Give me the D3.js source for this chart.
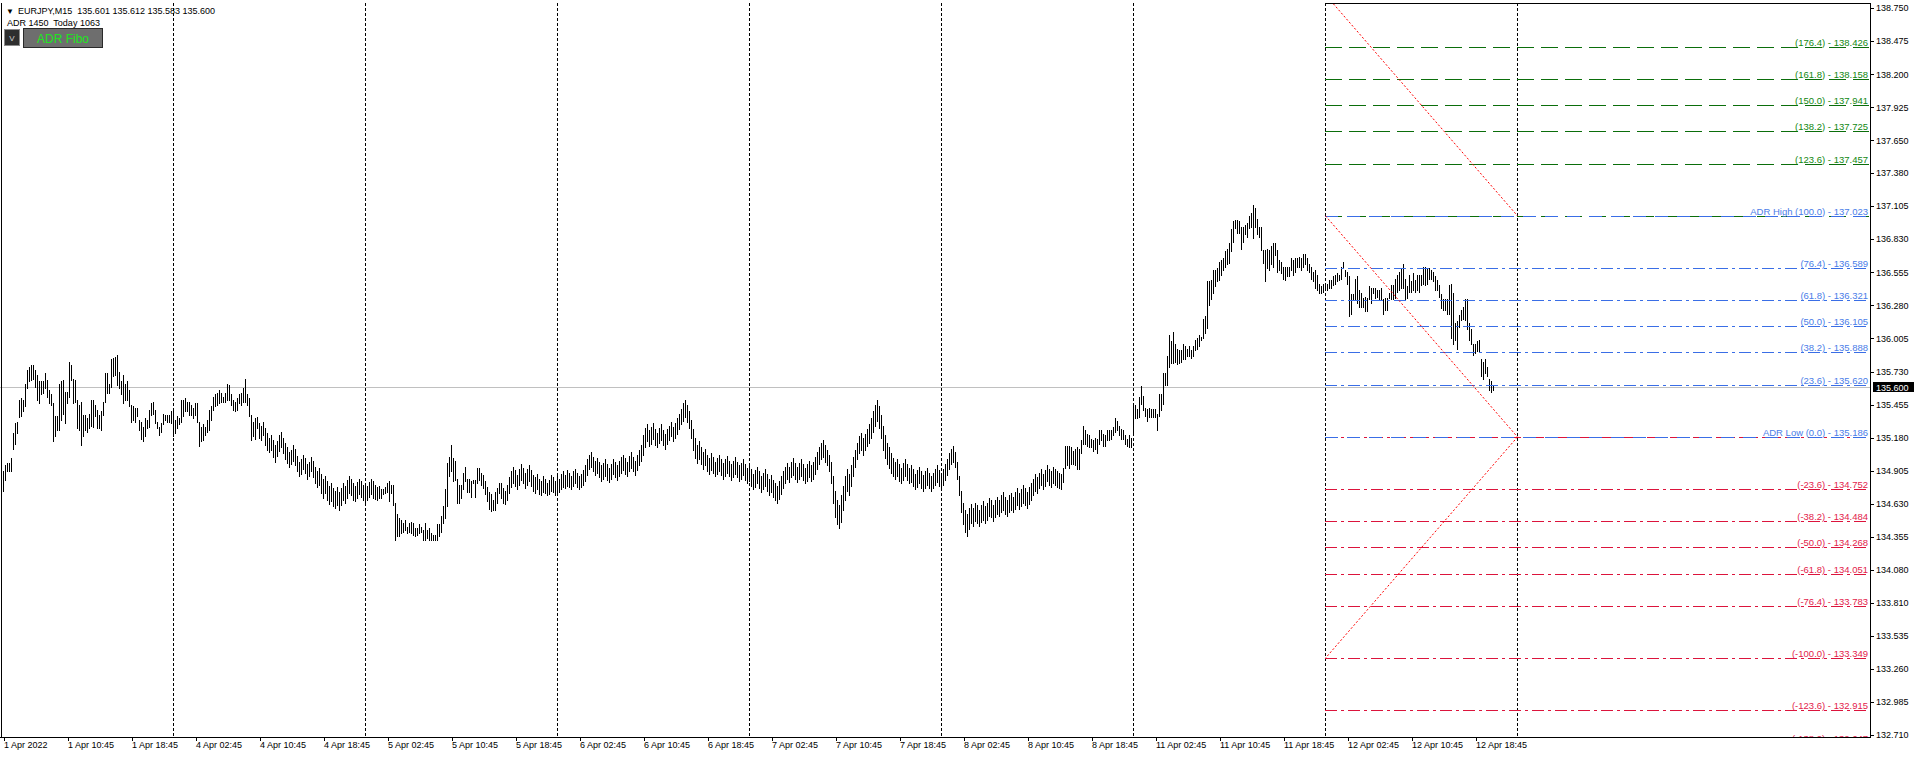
<!DOCTYPE html>
<html>
<head>
<meta charset="utf-8">
<script src="https://cdn.jsdelivr.net/npm/d3@7"></script>
<style>
html, body { margin: 0; padding: 0; background: #fff; overflow: hidden; }
svg { display: block; }
text { font-family: "Liberation Sans", Arial, sans-serif; }
</style>
</head>
<body>
<div id="chart-area"></div>
<script>
// EURJPY M15 bars, [high, low] per bar, one array per trading day
const apr01 = [
[134.90,134.74],[134.95,134.83],[134.97,134.90],[134.97,134.90],[135.01,134.90],
[135.22,135.09],[135.30,135.13],[135.31,135.22],[135.49,135.35],[135.51,135.36],
[135.49,135.40],[135.63,135.44],[135.74,135.59],[135.77,135.65],[135.78,135.66],
[135.78,135.67],[135.74,135.60],[135.70,135.49],[135.65,135.47],[135.65,135.54],
[135.65,135.55],[135.72,135.59],[135.66,135.52],[135.58,135.47],[135.54,135.45],
[135.47,135.15],[135.36,135.19],[135.36,135.24],[135.63,135.24],[135.65,135.33],
[135.66,135.38],[135.56,135.30],[135.56,135.47],[135.81,135.52],[135.78,135.66],
[135.67,135.47],[135.66,135.48],[135.49,135.26],[135.45,135.24],[135.48,135.12],
[135.37,135.19],[135.37,135.24],[135.34,135.23],[135.38,135.26],[135.49,135.28],
[135.49,135.27],[135.45,135.36],[135.41,135.26],[135.37,135.26],[135.40,135.24],
[135.48,135.37],[135.72,135.48],[135.72,135.55],[135.63,135.55],[135.83,135.60],
[135.84,135.69],[135.85,135.70],[135.87,135.62],[135.73,135.59],[135.65,135.54],
[135.70,135.47],[135.63,135.49],[135.65,135.49],[135.58,135.44],[135.45,135.31],
[135.44,135.33],[135.43,135.31],[135.43,135.36],[135.33,135.24],[135.31,135.17],
[135.27,135.15],[135.34,135.19],[135.33,135.26],[135.41,135.27],[135.47,135.37],
[135.48,135.38],[135.41,135.30],[135.31,135.26],[135.27,135.20],[135.30,135.23],
[135.38,135.29],[135.37,135.33],[135.37,135.31],[135.37,135.31],[135.40,135.30]
]
const apr04 = [
[135.41,135.19],[135.33,135.22],[135.36,135.26],[135.34,135.29],[135.49,135.31],
[135.49,135.36],[135.51,135.40],[135.48,135.40],[135.48,135.37],[135.45,135.37],
[135.43,135.34],[135.47,135.37],[135.47,135.31],[135.31,135.11],[135.27,135.15],
[135.29,135.16],[135.27,135.20],[135.33,135.23],[135.41,135.24],[135.44,135.33],
[135.52,135.41],[135.54,135.44],[135.55,135.45],[135.58,135.47],[135.55,135.48],
[135.52,135.48],[135.55,135.48],[135.63,135.49],[135.62,135.49],[135.54,135.45],
[135.49,135.41],[135.48,135.40],[135.51,135.41],[135.54,135.47],[135.55,135.45],
[135.59,135.48],[135.67,135.48],[135.54,135.45],[135.51,135.36],[135.37,135.16],
[135.31,135.19],[135.34,135.17],[135.35,135.26],
[135.30,135.18],[135.28,135.16],[135.31,135.20],[135.26,135.12],[135.22,135.08],
[135.18,135.06],[135.20,135.08],[135.16,135.02],[135.12,134.98],[135.15,135.03],
[135.20,135.07],[135.23,135.10],[135.18,135.05],[135.14,135.00],[135.10,134.97],
[135.06,134.94],[135.08,134.96],[135.12,134.99],[135.09,134.95],[135.03,134.90],
[134.98,134.86],[135.00,134.88],[135.04,134.92],[135.01,134.89],[134.96,134.84],
[134.98,134.86],[135.02,134.90],[134.99,134.85],[134.94,134.80],[134.90,134.77],
[134.93,134.79],[134.88,134.72],[134.84,134.68],[134.86,134.72],[134.82,134.66],
[134.78,134.63],[134.80,134.65],[134.76,134.61],[134.74,134.60],[134.77,134.62],
[134.73,134.58],[134.76,134.62],[134.80,134.66],[134.78,134.64],[134.83,134.68],
[134.86,134.72],[134.84,134.70],[134.80,134.66],[134.78,134.65],[134.81,134.68],
[134.84,134.71],[134.82,134.69],[134.79,134.66]
]
const apr05 = [
[134.80,134.64],[134.78,134.66],[134.81,134.69],[134.84,134.71],[134.82,134.68],
[134.79,134.67],[134.77,134.66],[134.78,134.68],
[134.75,134.68],[134.75,134.71],[134.77,134.72],[134.80,134.73],[134.82,134.65],
[134.79,134.72],[134.79,134.62],[134.64,134.33],[134.55,134.36],[134.51,134.36],
[134.50,134.39],[134.47,134.40],[134.50,134.41],[134.44,134.39],[134.47,134.40],
[134.48,134.39],[134.47,134.37],[134.43,134.36],[134.43,134.37],[134.46,134.39],
[134.44,134.40],[134.41,134.33],[134.47,134.33],[134.41,134.35],[134.43,134.33],
[134.39,134.33],[134.37,134.33],[134.37,134.33],[134.46,134.33],[134.46,134.36],
[134.53,134.40],[134.61,134.47],[134.75,134.51],[134.97,134.61],[135.02,134.86],
[135.12,134.90],[135.01,134.82],[134.99,134.83],[134.84,134.64],[134.79,134.64],
[134.79,134.68],[134.89,134.75],[134.94,134.82],[134.84,134.73],[134.84,134.73],
[134.82,134.69],[134.83,134.80],[134.83,134.69],[134.93,134.80],[134.93,134.83],
[134.89,134.79],[134.87,134.76],[134.82,134.71],[134.77,134.65],[134.73,134.59],
[134.71,134.57],[134.66,134.58],[134.73,134.58],[134.76,134.64],[134.80,134.72],
[134.80,134.68],[134.76,134.64],[134.74,134.63],[134.79,134.66],[134.85,134.72],
[134.90,134.77],[134.94,134.80],[134.91,134.78],[134.87,134.75],[134.92,134.79],
[134.96,134.83],[134.93,134.80],[134.89,134.76],[134.92,134.79],[134.95,134.82],
[134.91,134.78],[134.87,134.74],[134.85,134.72],[134.88,134.75],[134.84,134.71],
[134.82,134.70],[134.86,134.73],[134.84,134.72],[134.80,134.70],[134.83,134.71],
[134.87,134.74],[134.85,134.73],[134.82,134.70]
]
const apr06 = [
[134.86,134.72],[134.84,134.73],[134.88,134.75],[134.90,134.77],[134.87,134.76],
[134.91,134.78],[134.89,134.77],[134.86,134.75],[134.90,134.78],[134.92,134.80],
[134.89,134.77],[134.86,134.75],[134.88,134.77],[134.91,134.79],[134.95,134.82],
[135.00,134.87],[135.04,134.92],[135.06,134.94],[135.02,134.90],[134.99,134.87],
[135.01,134.89],[134.98,134.85],[134.95,134.82],[134.97,134.84],[135.00,134.86],
[134.96,134.83],[134.93,134.81],[134.96,134.84],[135.00,134.88],[134.98,134.85],
[134.95,134.83],[134.99,134.86],[135.02,134.89],[135.04,134.91],[135.01,134.88],
[134.98,134.86],[135.03,134.90],[135.06,134.93],[135.02,134.90],[134.99,134.87],
[135.04,134.91],[135.08,134.95],[135.12,134.99],[135.20,135.04],[135.26,135.10],
[135.29,135.15],[135.24,135.11],[135.27,135.13],[135.30,135.17],[135.25,135.12],
[135.22,135.10],[135.26,135.14],[135.29,135.16],[135.24,135.12],[135.21,135.09],
[135.25,135.13],[135.28,135.16],[135.31,135.19],[135.27,135.15],[135.30,135.18],
[135.34,135.21],[135.38,135.25],[135.42,135.29],[135.47,135.32],[135.49,135.35],
[135.45,135.31],[135.40,135.26],[135.33,135.18],[135.25,135.08],[135.18,135.01],
[135.12,134.97],[135.15,135.00],[135.10,134.96],[135.06,134.92],[135.09,134.95],
[135.04,134.90],[135.01,134.88],[135.05,134.91],[135.02,134.89],[134.98,134.86],
[135.01,134.88],[135.04,134.90],[135.00,134.87],[134.97,134.84],[135.00,134.86],
[135.03,134.89],[134.99,134.86],[134.96,134.83],[134.99,134.85],[135.02,134.88],
[134.98,134.85],[134.95,134.82],[134.97,134.84],[135.00,134.87],[134.96,134.83],
[134.93,134.80]
]
const apr07 = [
[134.95,134.82],[134.92,134.78],[134.88,134.75],[134.91,134.77],[134.94,134.80],
[134.90,134.76],[134.86,134.73],[134.89,134.75],[134.92,134.78],[134.88,134.74],
[134.84,134.70],[134.87,134.73],[134.83,134.69],[134.80,134.66],[134.78,134.64],
[134.82,134.67],[134.86,134.71],[134.90,134.76],[134.94,134.80],[134.97,134.84],
[134.94,134.81],[134.98,134.85],[135.01,134.87],[134.97,134.84],[134.94,134.81],
[134.97,134.84],[135.00,134.86],[134.96,134.83],[134.93,134.80],[134.96,134.82],
[134.99,134.85],[134.95,134.82],[134.98,134.84],[135.02,134.88],[135.06,134.92],
[135.10,134.96],[135.14,135.00],[135.16,135.02],[135.12,134.98],[135.08,134.95],
[135.04,134.90],[134.98,134.80],[134.86,134.64],[134.74,134.52],[134.66,134.46],
[134.62,134.43],[134.70,134.48],[134.78,134.58],[134.86,134.66],[134.92,134.74],
[134.88,134.70],[134.95,134.78],[135.02,134.86],[135.08,134.94],[135.14,135.00],
[135.19,135.05],[135.22,135.08],[135.18,135.04],[135.21,135.08],[135.25,135.11],
[135.29,135.14],[135.34,135.18],[135.40,135.23],[135.45,135.28],[135.49,135.32],
[135.44,135.26],[135.37,135.18],[135.28,135.08],[135.20,135.01],[135.14,134.96],
[135.10,134.93],[135.05,134.89],[135.01,134.86],[134.98,134.84],[135.00,134.86],
[134.96,134.82],[134.93,134.80],[134.97,134.83],[135.00,134.86],[134.96,134.83],
[134.93,134.80],[134.95,134.81],[134.92,134.78],[134.88,134.75],[134.91,134.77],
[134.94,134.80],[134.90,134.76],[134.87,134.74],[134.90,134.76],[134.93,134.79],
[134.89,134.76],[134.86,134.74],[134.89,134.76],[134.92,134.79],[134.95,134.81],
[134.91,134.78]
]
const apr08 = [
[134.88,134.75],[134.92,134.79],[134.96,134.83],[135.00,134.87],[135.05,134.92],
[135.09,134.96],[135.11,134.98],[135.06,134.94],[134.98,134.84],[134.86,134.70],
[134.74,134.56],[134.64,134.46],[134.58,134.40],[134.55,134.36],[134.60,134.42],
[134.63,134.47],[134.60,134.45],[134.64,134.49],[134.62,134.47],[134.58,134.45],
[134.62,134.48],[134.65,134.50],[134.61,134.47],[134.64,134.50],[134.68,134.53],
[134.66,134.52],[134.62,134.49],[134.66,134.52],[134.69,134.55],[134.66,134.53],
[134.70,134.56],[134.73,134.58],[134.69,134.55],[134.66,134.53],[134.70,134.56],
[134.72,134.58],[134.69,134.56],[134.73,134.59],[134.76,134.62],[134.72,134.59],
[134.75,134.61],[134.79,134.64],[134.76,134.62],[134.73,134.60],[134.77,134.63],
[134.80,134.66],[134.84,134.70],[134.88,134.74],[134.85,134.72],[134.89,134.76],
[134.92,134.79],[134.88,134.75],[134.91,134.78],[134.95,134.82],[134.92,134.79],
[134.90,134.77],[134.94,134.80],[134.92,134.79],[134.90,134.77],[134.89,134.76],
[134.88,134.75],[134.93,134.81],[135.11,134.93],[135.11,134.95],[135.11,134.93],
[135.10,134.96],[135.07,134.96],[135.09,134.95],[135.10,134.92],[135.09,134.92],
[135.16,135.05],[135.28,135.13],[135.24,135.13],[135.21,135.11],[135.20,135.10],
[135.17,135.10],[135.16,135.07],[135.18,135.09],[135.17,135.05],[135.24,135.13],
[135.24,135.16],[135.21,135.11],[135.20,135.11],[135.24,135.16],[135.24,135.16],
[135.24,135.17],[135.27,135.20],[135.34,135.23],[135.32,135.24],[135.28,135.20],
[135.25,135.17],[135.24,135.17],[135.20,135.13],[135.17,135.11],[135.20,135.10],
[135.18,135.10]
]
const apr11 = [
[135.47,135.21],[135.45,135.34],[135.42,135.34],[135.52,135.35],[135.61,135.46],
[135.53,135.41],[135.43,135.36],[135.42,135.32],[135.43,135.35],[135.42,135.35],
[135.42,135.35],[135.42,135.35],[135.38,135.24],[135.54,135.36],[135.54,135.41],
[135.72,135.46],[135.72,135.62],[135.86,135.62],[136.03,135.77],[135.98,135.80],
[136.06,135.80],[135.96,135.81],[135.92,135.79],[135.91,135.80],[135.91,135.81],
[135.96,135.83],[135.94,135.83],[135.92,135.86],[135.94,135.86],[135.91,135.84],
[135.94,135.86],[135.99,135.91],[136.01,135.92],[136.03,135.94],[136.02,135.99],
[136.17,136.01],[136.19,136.05],[136.48,136.09],[136.48,136.28],[136.49,136.33],
[136.57,136.38],[136.57,136.44],[136.59,136.48],[136.64,136.49],[136.66,136.53],
[136.67,136.57],[136.73,136.60],[136.75,136.62],[136.80,136.63],[136.91,136.73],
[136.98,136.81],[136.99,136.92],[136.99,136.88],[136.98,136.88],[136.93,136.75],
[136.93,136.81],[136.95,136.87],[136.96,136.85],[137.02,136.92],[137.05,136.93],
[137.11,136.84],[137.09,136.93],[137.00,136.87],[136.93,136.85],[136.93,136.74],
[136.74,136.63],[136.74,136.48],[136.75,136.59],[136.74,136.57],[136.77,136.62],
[136.80,136.60],[136.80,136.70],[136.74,136.56],[136.66,136.57],[136.64,136.55],
[136.60,136.50],[136.60,136.49],[136.60,136.52],[136.60,136.52],[136.67,136.57],
[136.66,136.53],[136.67,136.56],[136.67,136.60],[136.68,136.60],[136.67,136.57],
[136.71,136.60],[136.71,136.62],[136.67,136.57],[136.62,136.56],[136.60,136.50],
[136.56,136.48],[136.57,136.42],[136.53,136.41],[136.46,136.38],[136.44,136.38],
[136.46,136.39]
]
const apr12 = [
[136.46,136.42],[136.46,136.41],[136.49,136.42],[136.49,136.42],[136.52,136.45],
[136.53,136.46],[136.55,136.48],[136.53,136.49],[136.60,136.50],[136.64,136.59],
[136.57,136.52],[136.56,136.46],[136.52,136.19],[136.37,136.21],[136.37,136.33],
[136.50,136.33],[136.52,136.30],[136.41,136.27],[136.38,136.27],[136.34,136.27],
[136.35,136.23],[136.34,136.23],[136.44,136.33],[136.42,136.30],[136.42,136.38],
[136.42,136.34],[136.41,136.35],[136.41,136.33],[136.42,136.33],[136.33,136.21],
[136.34,136.24],[136.34,136.24],[136.38,136.34],[136.45,136.33],[136.45,136.33],
[136.50,136.34],[136.53,136.39],[136.56,136.41],[136.59,136.42],[136.62,136.42],
[136.50,136.33],[136.44,136.34],[136.53,136.39],[136.48,136.39],[136.55,136.41],
[136.49,136.39],[136.53,136.41],[136.53,136.39],[136.53,136.45],[136.60,136.46],
[136.60,136.45],[136.59,136.46],[136.59,136.50],[136.57,136.50],[136.56,136.48],
[136.52,136.41],[136.49,136.41],[136.45,136.35],[136.37,136.26],[136.33,136.24],
[136.33,136.24],[136.33,136.21],[136.45,136.21],[136.46,136.01],[136.38,135.96],
[136.13,135.99],[136.15,135.92],[136.20,136.10],[136.24,136.16],[136.27,136.17],
[136.33,136.16],[136.33,136.08],[136.13,135.99],[136.08,135.96],[135.96,135.87],
[135.96,135.88],[135.98,135.90],[135.99,135.90],[135.83,135.69],[135.81,135.67],
[135.83,135.72],[135.77,135.69],[135.67,135.58],[135.65,135.56],[135.61,135.58]
]

// bar index where each day starts (the last one is the next, empty, day)
const daySeparators = [85, 181, 277, 373, 469, 565, 661, 757]

const timeLabels = [
  "1 Apr 2022", "1 Apr 10:45", "1 Apr 18:45", "4 Apr 02:45", "4 Apr 10:45", "4 Apr 18:45",
  "5 Apr 02:45", "5 Apr 10:45", "5 Apr 18:45", "6 Apr 02:45", "6 Apr 10:45", "6 Apr 18:45",
  "7 Apr 02:45", "7 Apr 10:45", "7 Apr 18:45", "8 Apr 02:45", "8 Apr 10:45", "8 Apr 18:45",
  "11 Apr 02:45", "11 Apr 10:45", "11 Apr 18:45", "12 Apr 02:45", "12 Apr 10:45", "12 Apr 18:45"
]
const labelEvery = 32

const priceTicks = [
  138.750, 138.475, 138.200, 137.925, 137.650, 137.380, 137.105, 136.830, 136.555, 136.280,
  136.005, 135.730, 135.455, 135.180, 134.905, 134.630, 134.355, 134.080, 133.810, 133.535,
  133.260, 132.985, 132.710
]

const symbol = "EURJPY,M15"
const lastOhlc = [135.601, 135.612, 135.583, 135.600]
const bid = 135.600
const adrText = "ADR 1450  Today 1063"

// ADR fibo: levels and their prices
const adrHigh = 137.023
const adrLow = 135.186
const fiboLevels = [176.4, 161.8, 150.0, 138.2, 123.6, 100.0, 76.4, 61.8, 50.0, 38.2, 23.6, 0.0,
  -23.6, -38.2, -50.0, -61.8, -76.4, -100.0, -123.6, -138.2]
const fiboPrices = [138.426, 138.158, 137.941, 137.725, 137.457, 137.023, 136.589, 136.321, 136.105,
  135.888, 135.620, 135.186, 134.752, 134.484, 134.268, 134.051, 133.783, 133.349, 132.915, 132.647]
const fiboStart = 661
const fiboEnd = 757
// red dotted guide lines: [fromBar, fromLevel, toBar, toLevel]
const fiboGuides = [[661, 200, 757, 100], [661, 100, 757, 0], [757, 0, 661, -100]]

function drawChart() {
    const bars = [].concat(apr01, apr04, apr05, apr06, apr07, apr08, apr11, apr12)

    const svgWidth = 1916
    const svgHeight = 758
    const plot = { left: 0, right: 1870, top: 3, bottom: 737 }

    const xScale = d3.scaleLinear()
        .domain([0, bars.length - 1])
        .range([3.5, 3.5 + 2 * (bars.length - 1)])

    const yScale = d3.scaleLinear()
        .domain([132.710, 138.750])
        .range([735, 8])

    const py = p => Math.round(yScale(p)) + 0.5

    const svg = d3.select("#chart-area")
        .append("svg")
        .attr("width", svgWidth)
        .attr("height", svgHeight)
        .style("background", "#fff")

    svg.append("clipPath")
        .attr("id", "clip")
        .append("rect")
        .attr("x", plot.left)
        .attr("y", plot.top)
        .attr("width", plot.right - plot.left)
        .attr("height", plot.bottom - plot.top)

    const chart = svg.append("g")
        .attr("clip-path", "url(#clip)")
        .attr("shape-rendering", "crispEdges")

    // bid line
    chart.append("line")
        .attr("x1", plot.left).attr("x2", plot.right)
        .attr("y1", py(bid)).attr("y2", py(bid))
        .attr("stroke", "#c0c0c0")

    // day separators
    chart.selectAll(".sep")
        .data(daySeparators)
        .join("line")
        .attr("class", "sep")
        .attr("x1", d => xScale(d)).attr("x2", d => xScale(d))
        .attr("y1", plot.top).attr("y2", plot.bottom)
        .attr("stroke", "#000")
        .attr("stroke-dasharray", "3,2")

    // bars
    chart.selectAll(".bar")
        .data(bars)
        .join("line")
        .attr("class", "bar")
        .attr("x1", (d, i) => xScale(i))
        .attr("x2", (d, i) => xScale(i))
        .attr("y1", d => Math.round(yScale(d[0])))
        .attr("y2", d => Math.round(yScale(d[1])) + 1)
        .attr("stroke", "#000")

    // fibo levels
    const levelColor = l => l > 100 ? "#0b6e0b" : (l < 0 ? "#dc143c" : "#3a6ee6")
    const textColor = l => l > 100 ? "#118811" : (l < 0 ? "#e31b4b" : "#4a7de8")
    const x1 = xScale(fiboStart) - 0.5
    const x2 = 1869

    const levels = fiboLevels.map((l, i) => ({ level: l, price: fiboPrices[i] }))

    // under-lines for ADR high / low (fibo 100 / 0 drawn in green / red)
    chart.append("line")
        .attr("x1", x1).attr("x2", x2)
        .attr("y1", py(adrHigh)).attr("y2", py(adrHigh))
        .attr("stroke", "#0b6e0b").attr("stroke-dasharray", "17,7")
    chart.append("line")
        .attr("x1", x1).attr("x2", x2)
        .attr("y1", py(adrLow)).attr("y2", py(adrLow))
        .attr("stroke", "#dc143c").attr("stroke-dasharray", "12,4,3,4")

    chart.selectAll(".lvl")
        .data(levels)
        .join("line")
        .attr("class", "lvl")
        .attr("x1", x1).attr("x2", x2)
        .attr("y1", d => py(d.price)).attr("y2", d => py(d.price))
        .attr("stroke", d => levelColor(d.level))
        .attr("stroke-dasharray", d => d.level > 100 ? "17,7" : (d.level == 100 || d.level == 0 ? "13,9" : "12,4,3,4"))

    const guide = d3.line()
        .x(d => xScale(d[0]))
        .y(d => yScale(adrLow + d[1] / 100 * (adrHigh - adrLow)))

    chart.selectAll(".guide")
        .data(fiboGuides)
        .join("path")
        .attr("class", "guide")
        .attr("d", d => guide([[d[0], d[1]], [d[2], d[3]]]))
        .attr("fill", "none")
        .attr("stroke", "#ff0000")
        .attr("stroke-dasharray", "2,2")
        .attr("shape-rendering", "auto")

    // level labels (clipped by the plot, like the bottom one)
    chart.append("g")
        .attr("shape-rendering", "auto")
        .selectAll("text")
        .data(levels)
        .join("text")
        .attr("x", 1868)
        .attr("y", d => py(d.price) - 1.5)
        .attr("text-anchor", "end")
        .attr("font-size", "9.5px")
        .attr("fill", d => textColor(d.level))
        .text(d => (d.level == 100 ? "ADR High " : d.level == 0 ? "ADR Low " : "")
            + "(" + d.level.toFixed(1) + ") - " + d.price.toFixed(3))

    // frame
    const frame = svg.append("g").attr("shape-rendering", "crispEdges").attr("stroke", "#000")
    frame.append("line").attr("x1", 1.5).attr("x2", 1.5).attr("y1", plot.top).attr("y2", plot.bottom)
    frame.append("line").attr("x1", plot.right + 0.5).attr("x2", plot.right + 0.5).attr("y1", plot.top).attr("y2", plot.bottom + 1)
    frame.append("line").attr("x1", 0).attr("x2", plot.right + 1).attr("y1", plot.bottom + 0.5).attr("y2", plot.bottom + 0.5)
    frame.append("line").attr("x1", x1).attr("x2", plot.right + 1).attr("y1", plot.top + 0.5).attr("y2", plot.top + 0.5)

    // price axis
    const yAxis = svg.append("g")
        .attr("transform", `translate(${plot.right},0)`)
        .attr("shape-rendering", "crispEdges")
        .call(d3.axisRight(yScale)
            .tickValues(priceTicks)
            .tickSize(4)
            .tickPadding(2)
            .tickFormat(d3.format(".3f")))
    yAxis.select(".domain").remove()
    yAxis.selectAll("text").attr("font-family", "Liberation Sans, Arial, sans-serif").attr("font-size", "9px").attr("fill", "#000")

    // bid price box
    svg.append("rect")
        .attr("x", 1873).attr("y", py(bid) - 5.5)
        .attr("width", 41).attr("height", 10)
        .attr("fill", "#000")
    svg.append("text")
        .attr("x", 1876).attr("y", py(bid) + 3.5)
        .attr("font-size", "9px").attr("fill", "#fff")
        .text(bid.toFixed(3))

    // time axis
    const labelIdx = timeLabels.map((t, i) => i * labelEvery)
    const xAxis = svg.append("g")
        .attr("transform", `translate(0,${plot.bottom})`)
        .attr("shape-rendering", "crispEdges")
        .call(d3.axisBottom(xScale)
            .tickValues(labelIdx)
            .tickSize(4)
            .tickSizeOuter(0)
            .tickPadding(1)
            .tickFormat((d, i) => timeLabels[i]))
    xAxis.select(".domain").remove()
    xAxis.selectAll("text")
        .attr("text-anchor", "start")
        .attr("x", 0)
        .attr("font-family", "Liberation Sans, Arial, sans-serif")
        .attr("font-size", "9px")
        .attr("fill", "#000")

    // header
    svg.append("text")
        .attr("x", 6).attr("y", 14)
        .attr("font-family", "DejaVu Sans, sans-serif")
        .attr("font-size", "8px")
        .text("\u25BC")
    svg.append("text")
        .attr("x", 18).attr("y", 14)
        .attr("font-size", "9px")
        .style("white-space", "pre")
        .text(symbol + "  " + lastOhlc.map(v => v.toFixed(3)).join(" "))
    svg.append("text")
        .attr("x", 7).attr("y", 26)
        .attr("font-size", "9px")
        .style("white-space", "pre")
        .text(adrText)

    // buttons
    svg.append("rect")
        .attr("x", 4.5).attr("y", 29.5).attr("width", 15).attr("height", 16)
        .attr("fill", "#2e2e2e").attr("stroke", "#8a8a8a")
    svg.append("text")
        .attr("x", 12).attr("y", 41).attr("text-anchor", "middle")
        .attr("font-size", "8px").attr("fill", "#d0d0d0")
        .text("V")
    svg.append("rect")
        .attr("x", 23.5).attr("y", 28.5).attr("width", 79).attr("height", 19)
        .attr("fill", "#6e6e6e").attr("stroke", "#2a2a2a")
    svg.append("text")
        .attr("x", 63).attr("y", 43).attr("text-anchor", "middle")
        .attr("font-size", "12px").attr("fill", "#1ee61e")
        .text("ADR Fibo")
}

drawChart()
</script>
</body>
</html>
